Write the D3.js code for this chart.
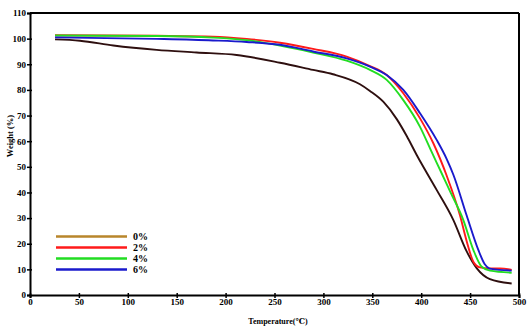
<!DOCTYPE html>
<html>
<head>
<meta charset="utf-8">
<script src="https://cdn.jsdelivr.net/npm/d3@7"></script>
<style>
  html, body { margin: 0; padding: 0; background: #fff; }
  svg { display: block; }
  text { font-family: "Liberation Serif", "DejaVu Serif", serif; font-weight: bold; fill: #000; }
</style>
</head>
<body>
<svg id="chart" width="532" height="335"></svg>
<script>
// TGA curves: residual weight (%) against temperature (°C)
const seriesNames = ["0%", "2%", "4%", "6%"];
const lineColors = ["#2e0f0f", "#ff1a1a", "#22dd22", "#1a1acc"];
const legendColors = ["#b8862b", "#ff1a1a", "#22dd22", "#1a1acc"];

const temp0 = [25.6, 51.1, 85.2, 129.5, 170.4, 211.3, 255.6, 289.4, 309.8, 337.4, 347.6, 361.2, 375.0, 385.2, 395.4, 415.8, 432.8, 446.5, 456.7, 470.3, 492.5];
const weight0 = [99.7, 99.2, 97.3, 95.6, 94.6, 93.6, 90.6, 87.8, 86.1, 82.2, 79.6, 75.4, 68.6, 62.0, 54.6, 41.0, 29.3, 17.0, 10.5, 6.2, 4.5];

const temp2 = [25.6, 129.5, 187.1, 221.6, 255.6, 289.4, 323.8, 347.6, 364.7, 381.7, 398.8, 412.4, 426.1, 439.7, 446.5, 453.3, 460.0, 470.0, 480.6, 492.5];
const weight2 = [101.3, 101.1, 100.8, 99.9, 98.4, 96.0, 93.0, 89.3, 85.8, 78.7, 68.9, 59.2, 46.5, 31.0, 21.0, 13.0, 10.8, 10.4, 10.4, 9.8];

const temp4 = [25.6, 129.5, 187.1, 221.6, 255.6, 289.4, 323.8, 347.6, 364.7, 381.7, 398.8, 410.7, 420.9, 429.4, 443.0, 453.3, 461.9, 470.3, 492.5];
const weight4 = [101.2, 101.0, 100.4, 99.4, 97.3, 94.6, 91.4, 87.8, 83.9, 76.0, 65.6, 55.8, 47.5, 40.5, 29.3, 17.6, 11.0, 9.5, 8.7];

const temp6 = [25.6, 129.5, 187.1, 221.6, 255.6, 289.4, 323.8, 347.6, 364.7, 381.7, 398.8, 415.8, 426.1, 432.8, 446.5, 458.4, 465.0, 470.0, 480.0, 492.5];
const weight6 = [100.5, 99.9, 99.3, 98.7, 97.6, 95.0, 92.3, 89.1, 85.8, 80.0, 70.9, 60.5, 53.0, 47.0, 31.0, 17.6, 12.0, 10.3, 9.8, 9.5];

const xTicks = [0, 50, 100, 150, 200, 250, 300, 350, 400, 450, 500];
const yTicks = [0, 10, 20, 30, 40, 50, 60, 70, 80, 90, 100, 110];

const temps = [temp0, temp2, temp4, temp6];
const weights = [weight0, weight2, weight4, weight6];
const series = seriesNames.map((name, i) => ({
  name,
  color: lineColors[i],
  legendColor: legendColors[i],
  points: temps[i].map((t, j) => [t, weights[i][j]])
}));

const svg = d3.select("#chart");
const margin = { left: 30, right: 13, top: 13, bottom: 40 };
const W = 532, H = 335;

const x = d3.scaleLinear().domain([0, 500]).range([margin.left, W - margin.right]);
const y = d3.scaleLinear().domain([0, 110]).range([H - margin.bottom, margin.top]);

// frame: top and right edges
svg.append("line").attr("x1", x(0)).attr("x2", x(500)).attr("y1", y(110)).attr("y2", y(110))
  .attr("stroke", "#000").attr("stroke-width", 2);
svg.append("line").attr("x1", x(500)).attr("x2", x(500)).attr("y1", y(110)).attr("y2", y(0))
  .attr("stroke", "#000").attr("stroke-width", 2);

// x axis
const xAxis = svg.append("g").attr("transform", `translate(0,${y(0)})`)
  .call(d3.axisBottom(x).tickValues(xTicks).tickSize(3).tickPadding(1).tickFormat(d3.format("d")));
xAxis.select(".domain").attr("stroke-width", 2);
xAxis.selectAll(".tick line").attr("stroke-width", 1.5).attr("y1", -2);
xAxis.selectAll("text").style("font-size", "9px").attr("font-family", null);

// y axis
const yAxis = svg.append("g").attr("transform", `translate(${x(0)},0)`)
  .call(d3.axisLeft(y).tickValues(yTicks).tickSize(3).tickPadding(1).tickFormat(d3.format("d")));
yAxis.select(".domain").attr("stroke-width", 2);
yAxis.selectAll(".tick line").attr("stroke-width", 1.5).attr("x1", 2);
yAxis.selectAll("text").style("font-size", "9px").attr("font-family", null);

// axis titles
svg.append("text").attr("x", 278).attr("y", 324).attr("text-anchor", "middle")
  .style("font-size", "8px").text("Temperature(℃)");
svg.append("text").attr("transform", "translate(13,136) rotate(-90)").attr("text-anchor", "middle")
  .style("font-size", "8.5px").text("Weight (%)");

// curves
const line = d3.line().x(d => x(d[0])).y(d => y(d[1])).curve(d3.curveMonotoneX);
svg.append("g").selectAll("path").data(series).join("path")
  .attr("d", d => line(d.points))
  .attr("fill", "none")
  .attr("stroke", d => d.color)
  .attr("stroke-width", 1.9)
  .attr("stroke-linejoin", "round");

// legend
const legY = d3.scaleBand().domain(seriesNames).range([231, 275]);
const leg = svg.append("g").selectAll("g").data(series).join("g")
  .attr("transform", d => `translate(0,${legY(d.name) + legY.bandwidth() / 2})`);
leg.append("line").attr("x1", 56).attr("x2", 127).attr("y1", 0).attr("y2", 0)
  .attr("stroke", d => d.legendColor).attr("stroke-width", 2.5);
leg.append("text").attr("x", 133).attr("y", 3.5).style("font-size", "10px").text(d => d.name);
</script>
</body>
</html>
